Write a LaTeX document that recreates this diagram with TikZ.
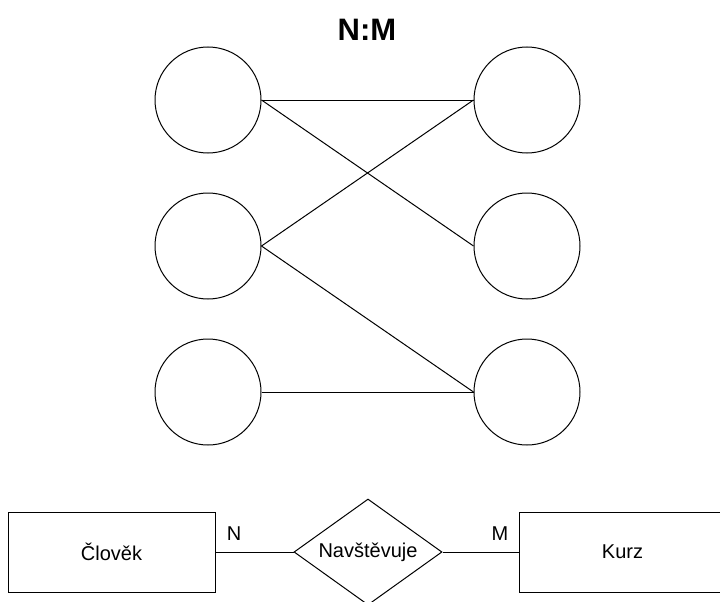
\documentclass[tikz,border=0pt]{standalone}
\usepackage{fontspec}
\setmainfont{Liberation Sans}
\usepackage{tikz}
\usetikzlibrary{shapes.geometric}

\begin{document}
\begin{tikzpicture}[x=1pt, y=-1pt, line width=1pt,
    set/.style={circle, draw, inner sep=0pt, minimum size=106pt},
    entity/.style={rectangle, draw, inner sep=0pt, minimum width=207pt, minimum height=80pt, font=\fontsize{20}{24}\selectfont},
    relation/.style={diamond, draw, aspect=1.4, inner sep=0pt, minimum width=148pt, minimum height=106pt, font=\fontsize{20}{24}\selectfont},
    card/.style={inner sep=0pt, font=\fontsize{20}{24}\selectfont}]
  \clip (0,0) rectangle (720,602);
  \useasboundingbox (0,0) rectangle (720,602);
  \node[font=\fontsize{31}{36}\selectfont\bfseries] (title) at (367,30) {N:M};
  % two sets
  \node[set] (l1) at (208,100) {};
  \node[set] (l2) at (208,246) {};
  \node[set] (l3) at (208,392) {};
  \node[set] (r1) at (527,100) {};
  \node[set] (r2) at (527,246) {};
  \node[set] (r3) at (527,392) {};
  \draw (l1.east) -- (r1.west);
  \draw (l1.east) -- (r2.west);
  \draw (l2.east) -- (r1.west);
  \draw (l2.east) -- (r3.west);
  \draw (l3.east) -- (r3.west);
  % ER diagram
  \node[entity] (clovek) at (111.5,552) {Člověk};
  \node[relation] (navst) at (368,552) {Navštěvuje};
  \node[entity] (kurz) at (622.5,552) {Kurz};
  \draw (clovek) -- (navst);
  \draw (navst) -- (kurz);
  \node[card] (n) at (234,534) {N};
  \node[card] (m) at (500,534) {M};
\end{tikzpicture}
\end{document}
